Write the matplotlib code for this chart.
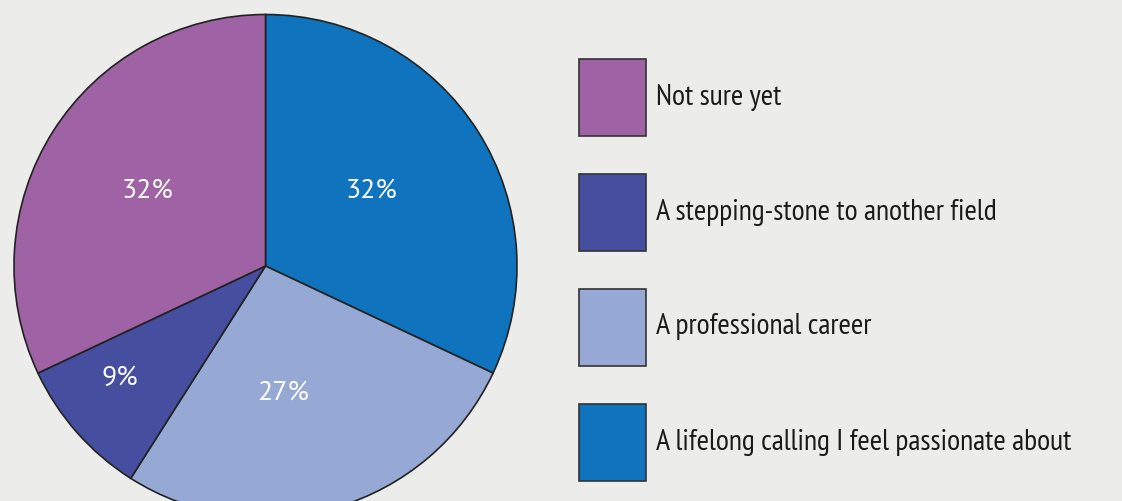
import numpy as np
import matplotlib
matplotlib.use("Agg")
import matplotlib.pyplot as plt
from matplotlib.patches import Rectangle

# Data
labels = ["A lifelong calling I feel passionate about",
          "A professional career",
          "A stepping-stone to another field",
          "Not sure yet"]
shares = [32, 27, 9, 32]
colors = ["#0F74BD", "#96A9D5", "#454E9F", "#9F62A5"]
legend_order = [3, 2, 1, 0]   # top to bottom in the legend

legend_font = ["PT Sans Narrow", "Roboto Condensed", "Liberation Sans", "DejaVu Sans"]
pct_font = ["PT Sans", "Lato", "DejaVu Sans"]
plt.rcParams["font.family"] = legend_font

W, H = 1122, 501
fig = plt.figure(figsize=(W / 100, H / 100), dpi=100)
fig.patch.set_facecolor("#ECECEA")
ax = fig.add_axes([0, 0, 1, 1])

cx, cy, r = 265.5, H - 266, 251.5
wedges, _ = ax.pie(shares, colors=colors, startangle=90, counterclock=False,
                   center=(cx, cy), radius=r, frame=True,
                   wedgeprops=dict(edgecolor="#222222", linewidth=1.2))
ax.set_xlim(0, W)
ax.set_ylim(0, H)
ax.set_aspect("equal")
ax.axis("off")

# percentage labels (radial distance and angle nudge per slice)
dists = [0.515, 0.507, 0.73, 0.556]
nudge = [3, -8, -3.7, 0]
for w, s, d, n in zip(wedges, shares, dists, nudge):
    a = np.deg2rad((w.theta1 + w.theta2) / 2 + n)
    ax.text(cx + d * r * np.cos(a), cy + d * r * np.sin(a), f"{s}%",
            color="white", fontsize=20, family=pct_font,
            ha="center", va="center")

# legend
for k, i in enumerate(legend_order):
    yc = H - (97 + 115 * k)
    ax.add_patch(Rectangle((579, yc - 38.5), 67, 77, facecolor=colors[i],
                           edgecolor="#333333", linewidth=1.2))
    ax.text(656, yc, labels[i], fontsize=21.5, color="#1a1a1a",
            ha="left", va="center")

fig.savefig("out.png", dpi=100, facecolor=fig.get_facecolor())
